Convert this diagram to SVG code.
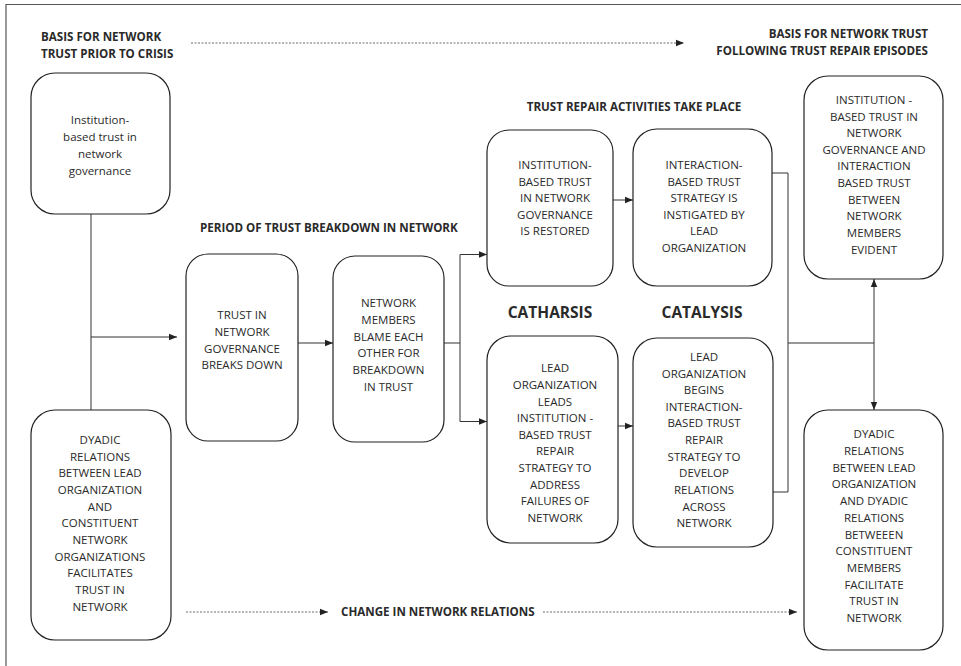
<svg xmlns="http://www.w3.org/2000/svg" width="961" height="666" viewBox="0 0 961 666">
<defs>
<marker id="ah" viewBox="0 0 8 8" refX="8" refY="4" markerWidth="8" markerHeight="8" markerUnits="userSpaceOnUse" orient="auto-start-reverse">
<path d="M0,0.8 L8,4 L0,7.2 Z" fill="#222"/>
</marker>
</defs>
<style>
.box{fill:#fff;stroke:#222;stroke-width:1.2}
.t{font-family:"Open Sans","Noto Sans",sans-serif;font-size:11.5px;fill:#2a2a2a;text-anchor:middle}
.h{font-family:"Open Sans","Noto Sans",sans-serif;font-size:11.6px;font-weight:bold;fill:#2a2a2a}
.big{font-family:"Open Sans","Noto Sans",sans-serif;font-size:15.5px;font-weight:bold;fill:#2a2a2a;text-anchor:middle}
.ln{fill:none;stroke:#333;stroke-width:1}
.dot{fill:none;stroke:#444;stroke-width:0.8;stroke-dasharray:2 1.5}
</style>
<rect width="961" height="666" fill="#fff"/>
<path d="M6,666 V4.5 H961" fill="none" stroke="#555" stroke-width="1.2"/>

<g id="headers">
<text class="h" x="41" y="41">BASIS FOR NETWORK</text>
<text class="h" x="41" y="58">TRUST PRIOR TO CRISIS</text>
<text class="h" x="928" y="38" text-anchor="end">BASIS FOR NETWORK TRUST</text>
<text class="h" x="928" y="55" text-anchor="end">FOLLOWING TRUST REPAIR EPISODES</text>
<text class="h" x="634" y="111" text-anchor="middle">TRUST REPAIR ACTIVITIES TAKE PLACE</text>
<text class="h" x="200" y="232">PERIOD OF TRUST BREAKDOWN IN NETWORK</text>
<text class="h" x="341" y="616">CHANGE IN NETWORK RELATIONS</text>
<text class="big" x="550" y="318">CATHARSIS</text>
<text class="big" x="702" y="318">CATALYSIS</text>
</g>

<g id="connectors">
<path class="dot" d="M191,43 H684" marker-end="url(#ah)"/>
<path class="dot" d="M186,612 H328" marker-end="url(#ah)"/>
<path class="dot" d="M543,612 H797" marker-end="url(#ah)"/>
<path class="ln" d="M91,214 V410"/>
<path class="ln" d="M91,337 H177" marker-end="url(#ah)"/>
<path class="ln" d="M298,343 H333" marker-end="url(#ah)"/>
<path class="ln" d="M444,343 H460"/>
<path class="ln" d="M460,254.5 V421.5"/>
<path class="ln" d="M460,254.5 H487" marker-end="url(#ah)"/>
<path class="ln" d="M460,421.5 H487" marker-end="url(#ah)"/>
<path class="ln" d="M613,200 H633" marker-end="url(#ah)"/>
<path class="ln" d="M618,426 H633" marker-end="url(#ah)"/>
<path class="ln" d="M772,173 H788 V492 H773"/>
<path class="ln" d="M788,343 H874"/>
<path class="ln" d="M874,279 V410" marker-start="url(#ah)" marker-end="url(#ah)"/>
</g>

<g id="nodeA">
<rect class="box" x="31" y="73" width="139" height="141" rx="24"/>
<text class="t" x="100" y="124">Institution-</text>
<text class="t" x="100" y="141">based trust in</text>
<text class="t" x="100" y="158">network</text>
<text class="t" x="100" y="175">governance</text>
</g>

<g id="nodeB">
<rect class="box" x="31" y="410" width="140" height="230" rx="24"/>
<text class="t" x="100" y="444">DYADIC</text>
<text class="t" x="100" y="461">RELATIONS</text>
<text class="t" x="100" y="477">BETWEEN LEAD</text>
<text class="t" x="100" y="494">ORGANIZATION</text>
<text class="t" x="100" y="511">AND</text>
<text class="t" x="100" y="527">CONSTITUENT</text>
<text class="t" x="100" y="544">NETWORK</text>
<text class="t" x="100" y="561">ORGANIZATIONS</text>
<text class="t" x="100" y="577">FACILITATES</text>
<text class="t" x="100" y="594">TRUST IN</text>
<text class="t" x="100" y="611">NETWORK</text>
</g>

<g id="nodeC">
<rect class="box" x="186" y="254" width="112" height="187" rx="22"/>
<text class="t" x="242" y="319">TRUST IN</text>
<text class="t" x="242" y="336">NETWORK</text>
<text class="t" x="242" y="353">GOVERNANCE</text>
<text class="t" x="242" y="369">BREAKS DOWN</text>
</g>

<g id="nodeD">
<rect class="box" x="333" y="256" width="111" height="186" rx="22"/>
<text class="t" x="388.5" y="307">NETWORK</text>
<text class="t" x="388.5" y="324">MEMBERS</text>
<text class="t" x="388.5" y="341">BLAME EACH</text>
<text class="t" x="388.5" y="357">OTHER FOR</text>
<text class="t" x="388.5" y="374">BREAKDOWN</text>
<text class="t" x="388.5" y="391">IN TRUST</text>
</g>

<g id="nodeE1">
<rect class="box" x="487" y="130" width="126" height="156" rx="22"/>
<text class="t" x="555" y="169">INSTITUTION-</text>
<text class="t" x="555" y="186">BASED TRUST</text>
<text class="t" x="555" y="202">IN NETWORK</text>
<text class="t" x="555" y="219">GOVERNANCE</text>
<text class="t" x="555" y="235">IS RESTORED</text>
</g>

<g id="nodeF1">
<rect class="box" x="633" y="129" width="139" height="157" rx="24"/>
<text class="t" x="704" y="169">INTERACTION-</text>
<text class="t" x="704" y="186">BASED TRUST</text>
<text class="t" x="704" y="202">STRATEGY IS</text>
<text class="t" x="704" y="219">INSTIGATED BY</text>
<text class="t" x="704" y="235">LEAD</text>
<text class="t" x="704" y="252">ORGANIZATION</text>
</g>

<g id="nodeE2">
<rect class="box" x="487" y="336" width="131" height="207" rx="24"/>
<text class="t" x="555" y="372">LEAD</text>
<text class="t" x="555" y="389">ORGANIZATION</text>
<text class="t" x="555" y="406">LEADS</text>
<text class="t" x="555" y="422">INSTITUTION -</text>
<text class="t" x="555" y="439">BASED TRUST</text>
<text class="t" x="555" y="455">REPAIR</text>
<text class="t" x="555" y="472">STRATEGY TO</text>
<text class="t" x="555" y="489">ADDRESS</text>
<text class="t" x="555" y="505">FAILURES OF</text>
<text class="t" x="555" y="522">NETWORK</text>
</g>

<g id="nodeF2">
<rect class="box" x="633" y="338" width="140" height="209" rx="24"/>
<text class="t" x="704" y="361">LEAD</text>
<text class="t" x="704" y="378">ORGANIZATION</text>
<text class="t" x="704" y="394">BEGINS</text>
<text class="t" x="704" y="411">INTERACTION-</text>
<text class="t" x="704" y="427">BASED TRUST</text>
<text class="t" x="704" y="444">REPAIR</text>
<text class="t" x="704" y="461">STRATEGY TO</text>
<text class="t" x="704" y="477">DEVELOP</text>
<text class="t" x="704" y="494">RELATIONS</text>
<text class="t" x="704" y="511">ACROSS</text>
<text class="t" x="704" y="527">NETWORK</text>
</g>

<g id="nodeG1">
<rect class="box" x="804" y="76" width="139" height="203" rx="24"/>
<text class="t" x="874" y="104">INSTITUTION -</text>
<text class="t" x="874" y="121">BASED TRUST IN</text>
<text class="t" x="874" y="137">NETWORK</text>
<text class="t" x="874" y="154">GOVERNANCE AND</text>
<text class="t" x="874" y="170">INTERACTION</text>
<text class="t" x="874" y="187">BASED TRUST</text>
<text class="t" x="874" y="204">BETWEEN</text>
<text class="t" x="874" y="220">NETWORK</text>
<text class="t" x="874" y="237">MEMBERS</text>
<text class="t" x="874" y="254">EVIDENT</text>
</g>

<g id="nodeG2">
<rect class="box" x="804" y="410" width="139" height="240" rx="24"/>
<text class="t" x="874" y="438">DYADIC</text>
<text class="t" x="874" y="455">RELATIONS</text>
<text class="t" x="874" y="472">BETWEEN LEAD</text>
<text class="t" x="874" y="488">ORGANIZATION</text>
<text class="t" x="874" y="505">AND DYADIC</text>
<text class="t" x="874" y="522">RELATIONS</text>
<text class="t" x="874" y="539">BETWEEEN</text>
<text class="t" x="874" y="555">CONSTITUENT</text>
<text class="t" x="874" y="572">MEMBERS</text>
<text class="t" x="874" y="589">FACILITATE</text>
<text class="t" x="874" y="605">TRUST IN</text>
<text class="t" x="874" y="622">NETWORK</text>
</g>
</svg>
